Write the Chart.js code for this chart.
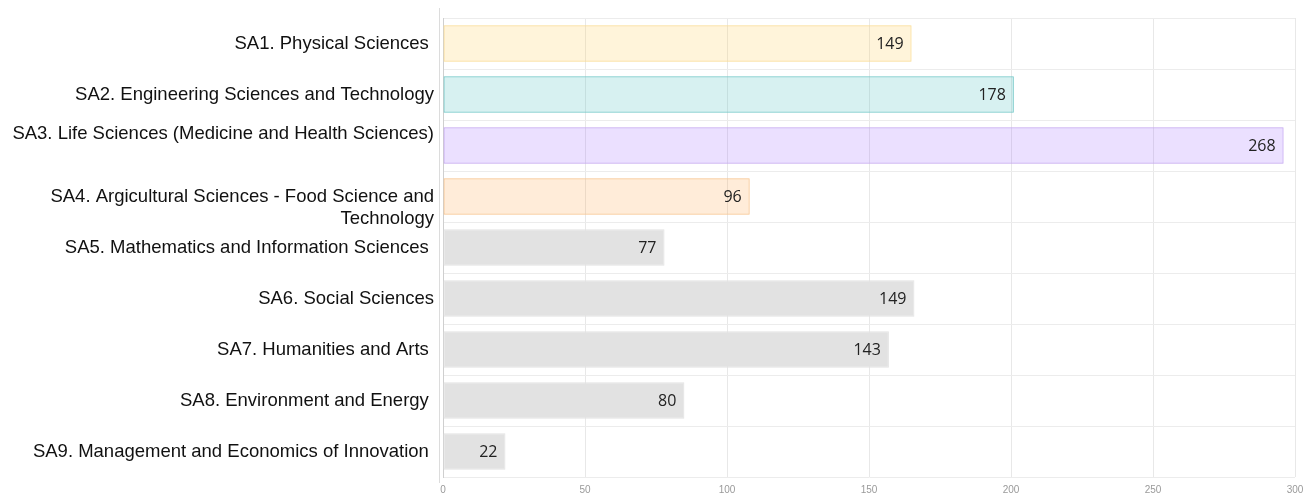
<!DOCTYPE html>
<html>
<head>
<meta charset="utf-8">
<script src="https://cdn.jsdelivr.net/npm/chart.js@4"></script>
<style>
  html, body { margin: 0; padding: 0; background: #fff; }
  #wrap { width: 1304px; height: 494px; position: relative; }
</style>
</head>
<body>
<div id="wrap"><canvas id="c"></canvas></div>
<script>
const categories = [
  "SA1. Physical Sciences ",
  "SA2. Engineering Sciences and Technology",
  ["SA3. Life Sciences (Medicine and Health Sciences)", ""],
  ["", "SA4. Argicultural Sciences - Food Science and", "Technology"],
  "SA5. Mathematics and Information Sciences ",
  "SA6. Social Sciences",
  "SA7. Humanities and Arts ",
  "SA8. Environment and Energy ",
  "SA9. Management and Economics of Innovation "
];
// bar lengths as drawn against the axis
const barValues = [165, 201, 296, 108, 78, 166, 157, 85, 22];
// numbers printed inside the bars
const countLabels = [149, 178, 268, 96, 77, 149, 143, 80, 22];
const xTicks = [0, 50, 100, 150, 200, 250, 300];

const fillColors = [
  "rgba(255,205,86,0.22)", "rgba(75,192,192,0.22)", "rgba(153,102,255,0.2)", "rgba(255,159,64,0.2)",
  "#e2e2e2", "#e2e2e2", "#e2e2e2", "#e2e2e2", "#e2e2e2"
];
const borderColors = [
  "rgb(250,220,145)", "rgb(110,198,198)", "rgb(195,165,240)", "rgb(248,195,140)",
  "#e2e2e2", "#e2e2e2", "#e2e2e2", "#e2e2e2", "#e2e2e2"
];

const valueLabelPlugin = {
  id: "valueLabels",
  afterDatasetsDraw(chart) {
    const ctx = chart.ctx;
    const meta = chart.getDatasetMeta(0);
    ctx.save();
    ctx.font = '16px "Open Sans", sans-serif';
    ctx.fillStyle = "#222";
    ctx.textAlign = "right";
    ctx.textBaseline = "middle";
    meta.data.forEach((el, i) => {
      ctx.fillText(String(countLabels[i]), el.x - 8, el.y + 1);
    });
    ctx.restore();
  }
};

const frameLinePlugin = {
  id: "frameLine",
  beforeDatasetsDraw(chart) {
    const a = chart.chartArea;
    const ctx = chart.ctx;
    ctx.save();
    ctx.strokeStyle = "#dcdcdc";
    ctx.lineWidth = 1;
    ctx.beginPath();
    ctx.moveTo(a.left - 3.5, a.top - 10);
    ctx.lineTo(a.left - 3.5, a.bottom + 6);
    ctx.stroke();
    ctx.restore();
  }
};

new Chart(document.getElementById("c"), {
  type: "bar",
  data: {
    labels: categories,
    datasets: [{
      data: barValues,
      backgroundColor: fillColors,
      borderColor: borderColors,
      borderWidth: 1,
      borderSkipped: false,
      barPercentage: 0.72,
      categoryPercentage: 1.0
    }]
  },
  options: {
    indexAxis: "y",
    responsive: true,
    maintainAspectRatio: false,
    animation: false,
    layout: { padding: { top: 18, right: 9, left: 0, bottom: 0 } },
    plugins: {
      legend: { display: false },
      tooltip: { enabled: false }
    },
    scales: {
      x: {
        min: 0,
        max: 300,
        afterBuildTicks(scale) { scale.ticks = xTicks.map(v => ({ value: v })); },
        afterFit(scale) {
          scale.height = 17;
          scale.paddingRight = 0;
          scale.paddingLeft = 0;
        },
        grid: { color: "#e8e8e8", drawTicks: false, lineWidth: 1 },
        border: { display: false },
        ticks: {
          color: "#9a9a9a",
          padding: 7,
          font: { family: '"Liberation Sans", Arial, sans-serif', size: 10 },
          maxRotation: 0
        }
      },
      y: {
        afterFit(scale) {
          scale.width = 443;
          scale.paddingTop = 0;
          scale.paddingBottom = 0;
        },
        grid: { color: "#ececec", drawTicks: false, offset: true },
        border: { display: true, color: "#cfcfcf" },
        ticks: {
          color: "#111",
          padding: 9,
          font: { family: '"Liberation Sans", Arial, sans-serif', size: 18.5, lineHeight: 1.2 },
          autoSkip: false
        }
      }
    }
  },
  plugins: [valueLabelPlugin, frameLinePlugin]
});
</script>
</body>
</html>
